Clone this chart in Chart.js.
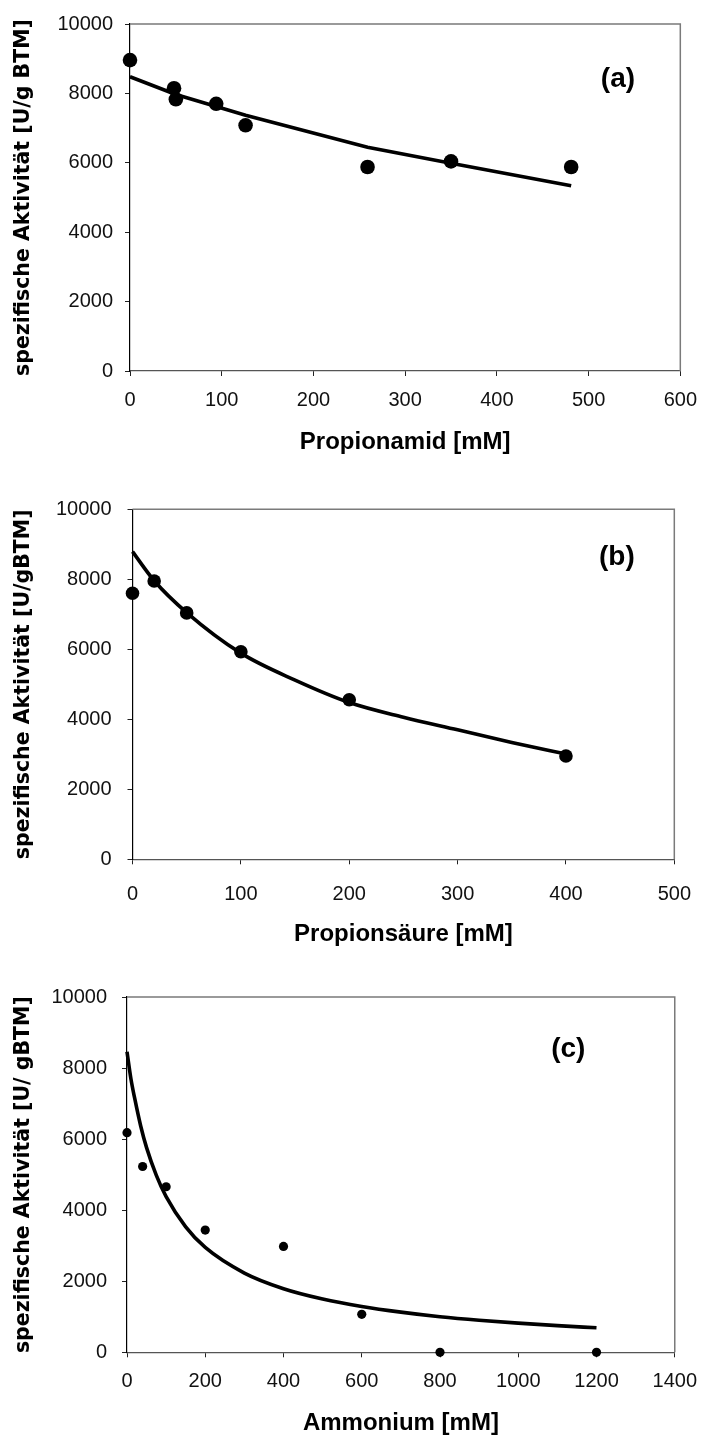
<!DOCTYPE html>
<html>
<head>
<meta charset="utf-8">
<script src="https://cdn.jsdelivr.net/npm/chart.js@4.4.0/dist/chart.umd.min.js"></script>
<style>
  body { margin: 0; background: #fff; }
  canvas { position: absolute; left: 0; }
</style>
</head>
<body>
<canvas id="chart-a" width="709" height="480" style="top:0px"></canvas>
<canvas id="chart-b" width="709" height="480" style="top:480px"></canvas>
<canvas id="chart-c" width="709" height="478" style="top:960px"></canvas>
<script>
// (a) Propionamid
const propionamidConc = [0, 48, 50, 94, 126, 259, 350, 481];
const propionamidActivity = [8960, 8150, 7830, 7700, 7080, 5880, 6040, 5880];
const propionamidFit = [8480, 7990, 7970, 7620, 7370, 6450, 5990, 5340];

// (b) Propionsäure
const saeureConc = [0, 20, 50, 100, 200, 400];
const saeureActivity = [7600, 7950, 7040, 5930, 4560, 2950];
const saeureFitConc = [0, 20, 50, 100, 150, 200, 250, 300, 350, 400];
const saeureFit = [8790, 7960, 7050, 5890, 5120, 4480, 4060, 3700, 3340, 3010];

// (c) Ammonium
const ammoniumConc = [0, 40, 100, 200, 400, 600, 800, 1200];
const ammoniumActivity = [6180, 5230, 4660, 3440, 2980, 1070, 0, 0];
const ammoniumFitConc = [0, 10, 20, 35, 50, 75, 100, 150, 200, 300, 400, 500, 600, 700, 800, 900, 1000, 1100, 1200];
const ammoniumFit = [8460, 7700, 7130, 6370, 5760, 4980, 4380, 3530, 2950, 2230, 1790, 1500, 1290, 1130, 1000, 900, 820, 750, 690];

// tick labels
const yTicks = [0, 2000, 4000, 6000, 8000, 10000];
const xTicksA = [0, 100, 200, 300, 400, 500, 600];
const xTicksB = [0, 100, 200, 300, 400, 500];
const xTicksC = [0, 200, 400, 600, 800, 1000, 1200, 1400];

Chart.defaults.font.family = '"Liberation Sans", Arial, sans-serif';
Chart.defaults.color = '#111';

// grey frame on top and right of the plot area
const frame = {
    id: 'frame',
    beforeDatasetsDraw(chart) {
        const { ctx, chartArea: a } = chart;
        ctx.save();
        ctx.strokeStyle = '#7a7a7a';
        ctx.lineWidth = 1.5;
        ctx.beginPath();
        ctx.moveTo(a.left, a.top);
        ctx.lineTo(a.right, a.top);
        ctx.lineTo(a.right, a.bottom);
        ctx.stroke();
        ctx.restore();
    }
};

// panel letter (a), (b), (c)
const panelLabel = {
    id: 'panelLabel',
    afterDraw(chart, args, opts) {
        const { ctx, scales } = chart;
        ctx.save();
        ctx.font = 'bold 28px "Liberation Sans", Arial, sans-serif';
        ctx.fillStyle = '#000';
        ctx.textAlign = 'center';
        ctx.textBaseline = 'middle';
        ctx.fillText(opts.text, scales.x.getPixelForValue(opts.x), scales.y.getPixelForValue(opts.y));
        ctx.restore();
    }
};

function makeChart(id, c) {
    return new Chart(document.getElementById(id), {
        type: 'scatter',
        data: {
            datasets: [
                {
                    data: c.conc.map((x, i) => ({ x: x, y: c.activity[i] })),
                    showLine: false,
                    pointRadius: c.radius,
                    pointBackgroundColor: '#000',
                    pointBorderColor: '#000',
                    pointBorderWidth: 0,
                    clip: false
                },
                {
                    data: c.fitConc.map((x, i) => ({ x: x, y: c.fit[i] })),
                    showLine: true,
                    pointRadius: 0,
                    borderColor: '#000',
                    borderWidth: 3.6,
                    cubicInterpolationMode: c.smooth ? 'monotone' : 'default',
                    tension: 0,
                    clip: false
                }
            ]
        },
        options: {
            responsive: false,
            animation: false,
            events: [],
            layout: { padding: { left: 0, top: c.padTop, right: c.padRight, bottom: 0 } },
            plugins: {
                legend: { display: false },
                tooltip: { enabled: false },
                panelLabel: c.label
            },
            scales: {
                x: {
                    type: 'linear',
                    min: 0,
                    max: c.xTicks[c.xTicks.length - 1],
                    afterBuildTicks: s => { s.ticks = c.xTicks.map(v => ({ value: v })); },
                    afterFit: s => { s.height = c.xHeight; },
                    grid: { drawOnChartArea: false, tickLength: 5, color: '#222' },
                    border: { color: '#555', width: 1.2 },
                    ticks: {
                        padding: c.xTickPad,
                        font: { size: 20 },
                        maxRotation: 0,
                        autoSkip: false,
                        callback: v => String(v)
                    },
                    title: {
                        display: true,
                        text: c.xTitle,
                        color: '#000',
                        font: { size: 24, weight: 'bold' },
                        padding: { top: 0, bottom: c.xTitlePad }
                    }
                },
                y: {
                    type: 'linear',
                    min: 0,
                    max: 10000,
                    afterBuildTicks: s => { s.ticks = yTicks.map(v => ({ value: v })); },
                    afterFit: s => { s.width = c.yWidth; },
                    grid: { drawOnChartArea: false, tickLength: 5, color: '#222' },
                    border: { color: '#000', width: 1.2 },
                    ticks: {
                        padding: c.yTickPad,
                        font: { size: 20 },
                        callback: v => String(v)
                    },
                    title: {
                        display: true,
                        text: c.yTitle,
                        color: '#000',
                        font: { family: '"DejaVu Sans", sans-serif', size: 20.5, weight: 'bold' },
                        padding: { top: 11, bottom: 0 }
                    }
                }
            }
        },
        plugins: [frame, panelLabel]
    });
}

makeChart('chart-a', {
    conc: propionamidConc, activity: propionamidActivity,
    fitConc: propionamidConc, fit: propionamidFit, smooth: false,
    radius: 7.3, xTicks: xTicksA,
    xTitle: 'Propionamid [mM]', yTitle: 'spezifische Aktivität [U/g BTM]',
    padTop: 18, padRight: 21.5, yWidth: 130, xHeight: 109,
    xTickPad: 12, yTickPad: 12, xTitlePad: 23,
    label: { text: '(a)', x: 532, y: 8400 }
});

makeChart('chart-b', {
    conc: saeureConc, activity: saeureActivity,
    fitConc: saeureFitConc, fit: saeureFit, smooth: true,
    radius: 6.8, xTicks: xTicksB,
    xTitle: 'Propionsäure [mM]', yTitle: 'spezifische Aktivität [U/gBTM]',
    padTop: 29.3, padRight: 22.9, yWidth: 132.5, xHeight: 100.7,
    xTickPad: 18, yTickPad: 16, xTitlePad: 11,
    label: { text: '(b)', x: 447, y: 8620 }
});

makeChart('chart-c', {
    conc: ammoniumConc, activity: ammoniumActivity,
    fitConc: ammoniumFitConc, fit: ammoniumFit, smooth: true,
    radius: 4.6, xTicks: xTicksC,
    xTitle: 'Ammonium [mM]', yTitle: 'spezifische Aktivität [U/ gBTM]',
    padTop: 37, padRight: 28.3, yWidth: 127, xHeight: 85.7,
    xTickPad: 12, yTickPad: 15, xTitlePad: 0,
    label: { text: '(c)', x: 1128, y: 8520 }
});
</script>
</body>
</html>
